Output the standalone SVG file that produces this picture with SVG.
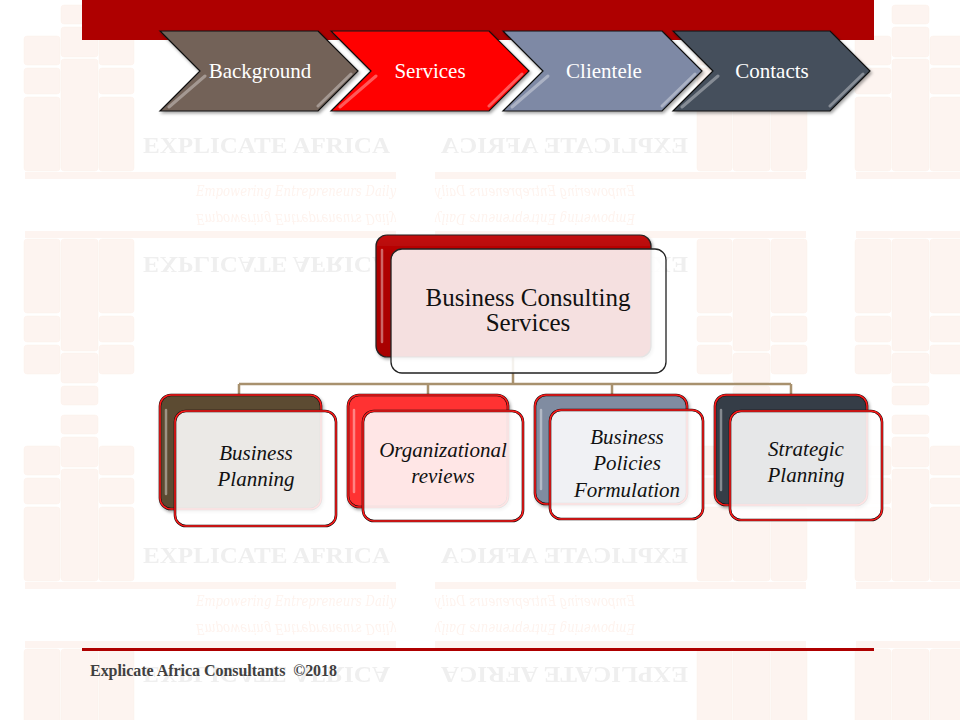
<svg xmlns="http://www.w3.org/2000/svg" xmlns:xlink="http://www.w3.org/1999/xlink" width="960" height="720" viewBox="0 0 960 720">
<style>
.book{fill:#fdf4f0;stroke:#fcefe9;stroke-width:0.4}
.wmt{font-family:"Liberation Serif",serif;font-weight:bold;font-size:24px;fill:#efefef}
.wmtag{font-family:"DejaVu Serif","Liberation Serif",serif;font-style:italic;font-size:14px;fill:#fef3ee}
.chev{stroke:#111;stroke-width:1.2;filter:url(#sh)}
.chevhl{fill:none;stroke:#fff;stroke-opacity:0.35;stroke-width:3;stroke-linecap:round}
.chevtxt{font-family:"Liberation Serif",serif;font-size:21px;fill:#fff;text-anchor:middle}
.conn{fill:none;stroke:#a8916e;stroke-width:2.5}
.backo{stroke:#1a0a0a;stroke-width:2.6;filter:url(#sh)}
.backi{fill:none;stroke:#ff1a1a;stroke-width:1.5}
.fronto{fill:#fff;fill-opacity:0.88;stroke:#1a0a0a;stroke-width:2.6}
.fronti{fill:none;stroke:#ff1a1a;stroke-width:1.5}
.gl{fill:none;stroke:#fff;stroke-opacity:0.4;stroke-width:2.5;stroke-linecap:round}
.ctxt{font-family:"Liberation Serif",serif;font-style:italic;font-size:21px;fill:#111;text-anchor:middle}
.mtxt{font-family:"Liberation Serif",serif;font-size:25px;fill:#111;text-anchor:middle}
</style>
<defs>
<filter id="sh" x="-10%" y="-10%" width="125%" height="130%">
<feDropShadow dx="1.5" dy="2" stdDeviation="1.5" flood-color="#000" flood-opacity="0.35"/>
</filter>
<linearGradient id="redg" x1="0" y1="0" x2="0" y2="1">
<stop offset="0" stop-color="#c41010"/>
<stop offset="0.15" stop-color="#b00000"/>
<stop offset="1" stop-color="#a80000"/>
</linearGradient>
<g id="logo">
<rect class="book" x="24" y="36" width="36" height="29" rx="3"/>
<rect class="book" x="24" y="68" width="36" height="26" rx="3"/>
<rect class="book" x="24" y="97" width="36" height="74" rx="3"/>
<rect class="book" x="61" y="5" width="37" height="19" rx="3"/>
<rect class="book" x="61" y="27" width="37" height="30" rx="3"/>
<rect class="book" x="61" y="59" width="37" height="112" rx="3"/>
<rect class="book" x="99" y="36" width="35" height="29" rx="3"/>
<rect class="book" x="99" y="68" width="35" height="26" rx="3"/>
<rect class="book" x="99" y="97" width="35" height="74" rx="3"/>
<text class="wmt" x="143" y="153" textLength="247" lengthAdjust="spacingAndGlyphs">EXPLICATE AFRICA</text>
<rect x="25" y="172" width="371" height="7" fill="#fdf4f0"/>
<text class="wmtag" x="196" y="196" textLength="200" lengthAdjust="spacingAndGlyphs">Empowering Entrepreneurs Daily</text>
</g>
<pattern id="wm" patternUnits="userSpaceOnUse" x="0" y="0" width="831" height="410">
<use xlink:href="#logo"/>
<use xlink:href="#logo" transform="matrix(-1 0 0 1 831 0)"/>
<use xlink:href="#logo" transform="matrix(1 0 0 -1 0 410)"/>
<use xlink:href="#logo" transform="matrix(-1 0 0 -1 831 410)"/>
</pattern>
</defs>
<rect x="0" y="0" width="960" height="720" fill="#fff"/>
<rect x="0" y="0" width="960" height="720" fill="url(#wm)"/>
<rect id="banner" x="82" y="0" width="792" height="40" fill="#ae0000"/>
<g id="nav-background">
<path class="chev" d="M160,31 L318,31 L358,71 L318,111 L160,111 L200,71 Z" fill="#736259"/>
<path class="chevhl" d="M205,76 L169,107 M351,74 L318,106"/>
<text class="chevtxt" x="260" y="78">Background</text>
</g>
<g id="nav-services">
<path class="chev" d="M331,31 L489,31 L529,71 L489,111 L331,111 L371,71 Z" fill="#ff0000"/>
<path class="chevhl" d="M376,76 L340,107 M522,74 L489,106"/>
<text class="chevtxt" x="430" y="78">Services</text>
</g>
<g id="nav-clientele">
<path class="chev" d="M503,31 L662,31 L702,71 L662,111 L503,111 L543,71 Z" fill="#7e89a5"/>
<path class="chevhl" d="M548,76 L512,107 M695,74 L662,106"/>
<text class="chevtxt" x="604" y="78">Clientele</text>
</g>
<g id="nav-contacts">
<path class="chev" d="M673,31 L830,31 L870,71 L830,111 L673,111 L713,71 Z" fill="#444f5c"/>
<path class="chevhl" d="M718,76 L682,107 M863,74 L830,106"/>
<text class="chevtxt" x="772" y="78">Contacts</text>
</g>
<g id="connectors">
<path class="conn" d="M513,357 V384 M239,384 H791 M239,384 V395 M428,384 V395 M612,384 V395 M791,384 V395"/>
</g>
<g id="node-main">
<rect x="376" y="235" width="275" height="122" rx="11" fill="url(#redg)" stroke="#222" stroke-width="1.2" filter="url(#sh)"/>
<path class="gl" d="M382,250 V342"/>
<rect x="391" y="249" width="275" height="124" rx="11" fill="#fff" fill-opacity="0.88" stroke="#222" stroke-width="1.3"/>
<text class="mtxt" x="528" y="306">Business Consulting</text>
<text class="mtxt" x="528" y="331">Services</text>
</g>
<g id="node-business-planning">
<rect class="backo" x="160" y="395" width="161" height="114" rx="11" fill="#5c4b33"/>
<rect class="backi" x="160" y="395" width="161" height="114" rx="11"/>
<path class="gl" d="M166,410 V494"/>
<rect class="fronto" x="175" y="411" width="161" height="115" rx="11"/>
<rect class="fronti" x="175" y="411" width="161" height="115" rx="11"/>
<text class="ctxt" x="256" y="460">Business</text>
<text class="ctxt" x="256" y="486">Planning</text>
</g>
<g id="node-organizational-reviews">
<rect class="backo" x="348" y="395" width="160" height="112" rx="11" fill="#ff3333"/>
<rect class="backi" x="348" y="395" width="160" height="112" rx="11"/>
<path class="gl" d="M354,410 V492"/>
<rect class="fronto" x="363" y="411" width="160" height="110" rx="11"/>
<rect class="fronti" x="363" y="411" width="160" height="110" rx="11"/>
<text class="ctxt" x="443" y="457">Organizational</text>
<text class="ctxt" x="443" y="483">reviews</text>
</g>
<g id="node-business-policies">
<rect class="backo" x="535" y="395" width="152" height="109" rx="11" fill="#808ca1"/>
<rect class="backi" x="535" y="395" width="152" height="109" rx="11"/>
<path class="gl" d="M541,410 V489"/>
<rect class="fronto" x="550" y="410" width="153" height="109" rx="11"/>
<rect class="fronti" x="550" y="410" width="153" height="109" rx="11"/>
<text class="ctxt" x="627" y="444">Business</text>
<text class="ctxt" x="627" y="470">Policies</text>
<text class="ctxt" x="627" y="497">Formulation</text>
</g>
<g id="node-strategic-planning">
<rect class="backo" x="715" y="395" width="152" height="110" rx="11" fill="#343d47"/>
<rect class="backi" x="715" y="395" width="152" height="110" rx="11"/>
<path class="gl" d="M721,410 V490"/>
<rect class="fronto" x="730" y="411" width="152" height="109" rx="11"/>
<rect class="fronti" x="730" y="411" width="152" height="109" rx="11"/>
<text class="ctxt" x="806" y="456">Strategic</text>
<text class="ctxt" x="806" y="482">Planning</text>
</g>
<g id="footer">
<rect x="82" y="648" width="792" height="3" fill="#ae0000"/>
<text x="90" y="676" font-family="Liberation Serif, serif" font-weight="bold" font-size="16" fill="#404040" textLength="247" lengthAdjust="spacing" xml:space="preserve">Explicate Africa Consultants  ©2018</text>
</g>
</svg>
